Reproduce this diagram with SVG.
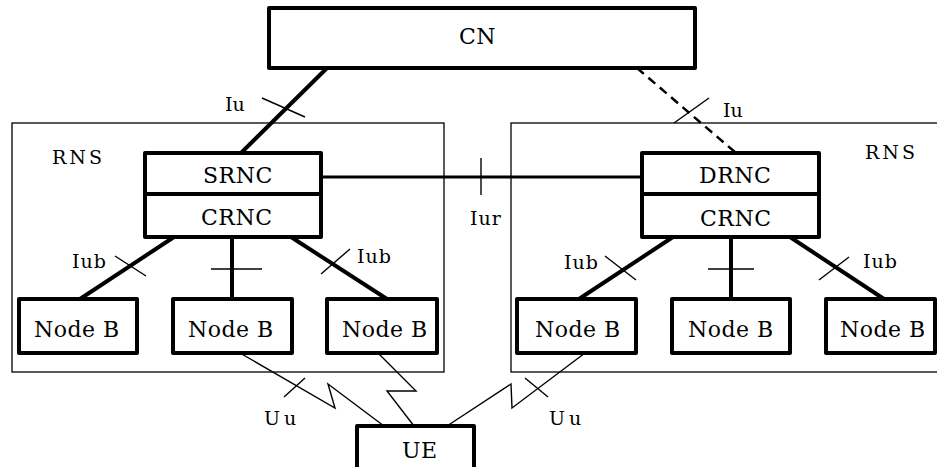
<svg xmlns="http://www.w3.org/2000/svg" width="937" height="467" viewBox="0 0 937 467">
<style>
.box{fill:#fff;stroke:#000;stroke-width:4;stroke-linejoin:round}
.area{fill:none;stroke:#000;stroke-width:1.3}
.thick{stroke:#000;stroke-width:4;fill:none}
.mid{stroke:#000;stroke-width:3;fill:none}
.dash{stroke:#000;stroke-width:2.5;fill:none;stroke-dasharray:9 6}
.thin{stroke:#000;stroke-width:1.4;fill:none}
text{font-family:'DejaVu Serif','Liberation Serif',serif;fill:#000}
.big{font-size:22px;letter-spacing:0.5px}
.lbl{font-size:19px}
</style>
<rect width="937" height="467" fill="#fff"/>
<g id="rns-left"><rect class="area" x="12" y="123" width="432" height="249"/><text class="lbl" x="52" y="164" letter-spacing="3">RNS</text></g>
<g id="rns-right"><rect class="area" x="511" y="123" width="440" height="249"/><text class="lbl" x="865" y="159" letter-spacing="3">RNS</text></g>
<g id="connectors">
<line class="thick" x1="327" y1="68" x2="240" y2="154"/>
<line class="thin" x1="262" y1="98" x2="305" y2="117"/>
<line class="dash" x1="637" y1="68" x2="736" y2="153"/>
<line class="thin" x1="674" y1="123" x2="709" y2="98"/>
<line class="mid" x1="321" y1="177" x2="642" y2="177"/>
<line class="thin" x1="481" y1="158" x2="481" y2="195"/>
<line class="thick" x1="174" y1="237" x2="80" y2="299"/>
<line class="thin" x1="115" y1="256" x2="146" y2="276"/>
<line class="thick" x1="232" y1="237" x2="232" y2="299"/>
<line class="thin" x1="211" y1="269" x2="262" y2="269"/>
<line class="thick" x1="291" y1="237" x2="387" y2="299"/>
<line class="thin" x1="321" y1="274" x2="350" y2="249"/>
<line class="thick" x1="673" y1="237" x2="579" y2="299"/>
<line class="thin" x1="605" y1="256" x2="636" y2="280"/>
<line class="thick" x1="731" y1="237" x2="731" y2="299"/>
<line class="thin" x1="708" y1="269" x2="754" y2="269"/>
<line class="thick" x1="790" y1="237" x2="884" y2="299"/>
<line class="thin" x1="819" y1="280" x2="849" y2="257"/>
<polyline class="thin" points="240,353 335,408 328,384 384,426"/>
<line class="thin" x1="284" y1="397" x2="305" y2="378"/>
<polyline class="thin" points="378,353 416,391 387,391 414,426"/>
<polyline class="thin" points="585,353 512,408 511,384 447,426"/>
<line class="thin" x1="525" y1="378" x2="548" y2="397"/>
<text class="lbl" x="225" y="111">Iu</text>
<text class="lbl" x="723" y="117">Iu</text>
<text class="lbl" x="470" y="225" letter-spacing="1">Iur</text>
<text class="lbl" x="72" y="268" letter-spacing="1">Iub</text>
<text class="lbl" x="357" y="263" letter-spacing="1">Iub</text>
<text class="lbl" x="564" y="269" letter-spacing="1">Iub</text>
<text class="lbl" x="863" y="268" letter-spacing="1">Iub</text>
<text class="lbl" x="264" y="425" letter-spacing="4">Uu</text>
<text class="lbl" x="549" y="425" letter-spacing="4">Uu</text>
</g>
<g id="cn"><rect class="box" x="269" y="8" width="426" height="60"/><text class="big" x="459" y="44" letter-spacing="0">CN</text></g>
<g id="srnc"><rect class="box" x="145" y="153" width="176" height="41"/><text class="big" x="203" y="183">SRNC</text></g>
<g id="crnc-left"><rect class="box" x="145" y="194" width="176" height="43"/><text class="big" x="201" y="225">CRNC</text></g>
<g id="drnc"><rect class="box" x="642" y="153" width="177" height="41"/><text class="big" x="699" y="183">DRNC</text></g>
<g id="crnc-right"><rect class="box" x="642" y="194" width="177" height="43"/><text class="big" x="700" y="226">CRNC</text></g>
<g id="nodeb-1"><rect class="box" x="19" y="299" width="118" height="54"/><text class="big" x="34" y="337">Node B</text></g>
<g id="nodeb-2"><rect class="box" x="173" y="299" width="119" height="54"/><text class="big" x="188" y="337">Node B</text></g>
<g id="nodeb-3"><rect class="box" x="327" y="299" width="110" height="54"/><text class="big" x="342" y="337">Node B</text></g>
<g id="nodeb-4"><rect class="box" x="517" y="299" width="119" height="54"/><text class="big" x="535" y="337">Node B</text></g>
<g id="nodeb-5"><rect class="box" x="672" y="299" width="118" height="54"/><text class="big" x="688" y="337">Node B</text></g>
<g id="nodeb-6"><rect class="box" x="826" y="299" width="109" height="54"/><text class="big" x="840" y="337">Node B</text></g>
<g id="ue"><rect class="box" x="357" y="426" width="117" height="50"/><text class="big" x="402" y="458" letter-spacing="0">UE</text></g>
</svg>
